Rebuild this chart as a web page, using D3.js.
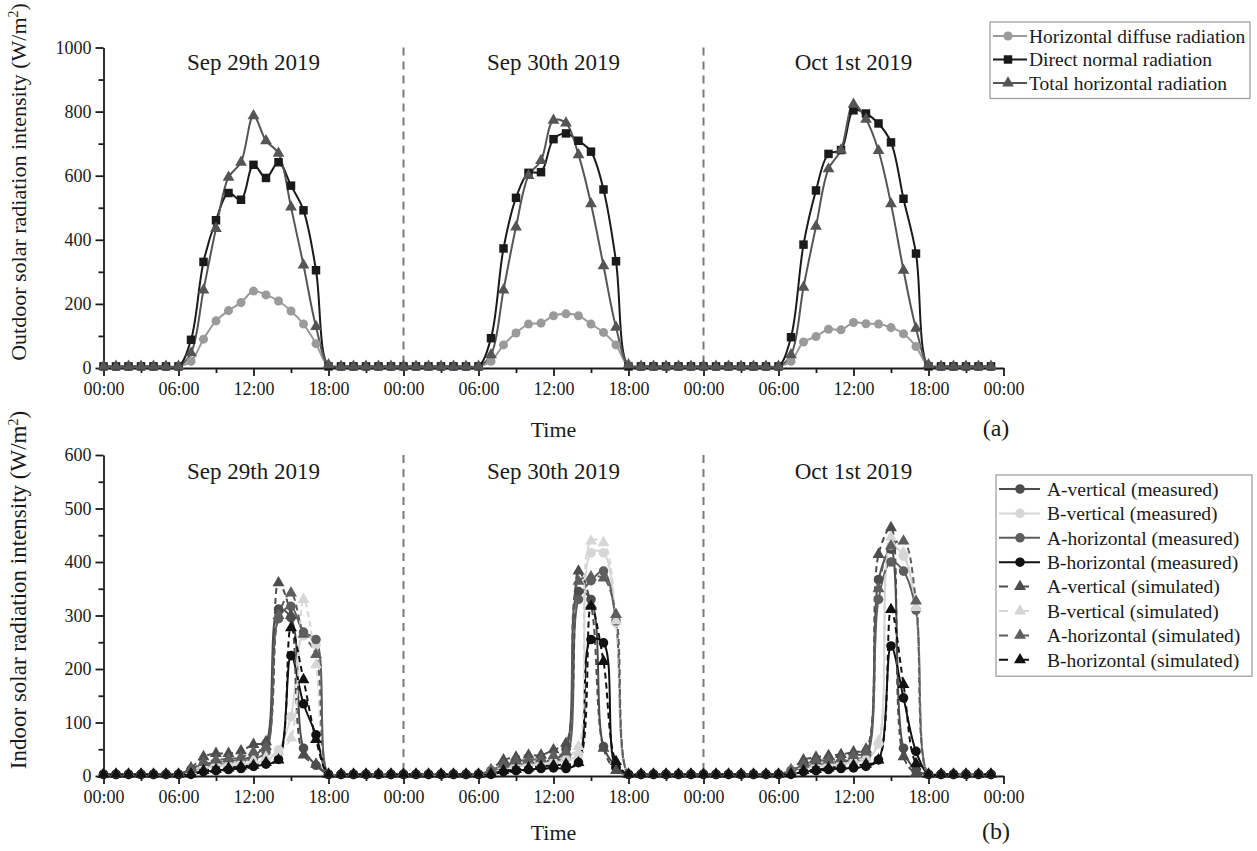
<!DOCTYPE html>
<html>
<head>
<meta charset="utf-8">
<script src="https://cdn.jsdelivr.net/npm/d3@7"></script>
<style>
body { margin: 0; background: #fff; }
svg text { font-family: "Liberation Serif", "Times New Roman", serif; fill: #1a1a1a; }
</style>
</head>
<body>
<svg id="chart" width="1257" height="851"></svg>
<script>
// three days, hourly values (index 0..71)
var days = ["Sep 29th 2019", "Sep 30th 2019", "Oct 1st 2019"];
var hourTicks = [0, 6, 12, 18, 24, 30, 36, 42, 48, 54, 60, 66, 72];
var hourMinor = [3, 9, 15, 21, 27, 33, 39, 45, 51, 57, 63, 69];
var outTicks = [0, 200, 400, 600, 800, 1000];
var outMinor = [100, 300, 500, 700, 900];
var inTicks = [0, 100, 200, 300, 400, 500, 600];
var inMinor = [50, 150, 250, 350, 450, 550];

// (a) outdoor
var horizDiffuse = [
  5,5,5,5,5,5,5, 21,90,147,179,204,240,228,209,178,137,76,5, 5,5,5,5,5,
  5,5,5,5,5,5,5, 21,72,109,137,140,163,169,163,137,111,72,5, 5,5,5,5,5,
  5,5,5,5,5,5,5, 21,81,98,121,119,142,138,137,126,107,67,5, 5,5,5,5,5
];
var directNormal = [
  5,5,5,5,5,5,5, 88,331,461,546,525,634,593,642,569,492,305,5, 5,5,5,5,5,
  5,5,5,5,5,5,5, 93,373,531,609,611,714,732,709,675,557,333,5, 5,5,5,5,5,
  5,5,5,5,5,5,5, 96,385,554,668,680,804,794,763,704,528,357,5, 5,5,5,5,5
];
var totalHoriz = [
  5,5,5,5,5,5,5, 47,243,435,595,642,787,709,670,502,321,129,10, 5,5,5,5,5,
  5,5,5,5,5,5,5, 41,243,440,600,647,773,764,665,512,319,127,10, 5,5,5,5,5,
  5,5,5,5,5,5,5, 41,252,442,621,680,823,776,678,512,305,124,10, 5,5,5,5,5
];

// (b) indoor
var aVertMeas = [
  3,3,3,3,3,3,3, 12,22,25,28,30,38,60,312,296,52,20,3, 3,3,3,3,3,
  3,3,3,3,3,3,3, 10,20,25,25,28,30,50,345,330,55,18,3, 3,3,3,3,3,
  3,3,3,3,3,3,3, 10,20,25,25,28,30,40,367,424,52,10,3, 3,3,3,3,3
];
var bVertMeas = [
  3,3,3,3,3,3,3, 8,15,18,20,22,24,28,49,111,262,245,3, 3,3,3,3,3,
  3,3,3,3,3,3,3, 8,15,18,20,22,25,30,40,417,417,286,3, 3,3,3,3,3,
  3,3,3,3,3,3,3, 8,15,18,20,22,25,30,60,431,411,311,3, 3,3,3,3,3
];
var aHorMeas = [
  3,3,3,3,3,3,3, 10,18,22,25,28,32,45,294,317,269,255,3, 3,3,3,3,3,
  3,3,3,3,3,3,3, 8,18,22,24,26,30,35,330,365,383,290,3, 3,3,3,3,3,
  3,3,3,3,3,3,3, 8,18,22,24,26,30,35,330,400,383,310,3, 3,3,3,3,3
];
var bHorMeas = [
  3,3,3,3,3,3,3, 3,8,10,12,14,18,22,31,225,135,77,3, 3,3,3,3,3,
  3,3,3,3,3,3,3, 3,8,10,12,14,15,14,25,255,249,15,3, 3,3,3,3,3,
  3,3,3,3,3,3,3, 3,8,10,12,14,15,18,30,243,146,46,3, 3,3,3,3,3
];
var aVertSim = [
  3,3,3,3,3,3,3, 15,36,42,42,47,59,64,361,300,39,22,3, 3,3,3,3,3,
  3,3,3,3,3,3,3, 12,30,35,39,39,49,61,383,320,52,10,3, 3,3,3,3,3,
  3,3,3,3,3,3,3, 12,30,35,38,40,45,50,414,464,36,5,3, 3,3,3,3,3
];
var bVertSim = [
  3,3,3,3,3,3,3, 10,20,25,25,28,30,35,45,71,330,208,3, 3,3,3,3,3,
  3,3,3,3,3,3,3, 10,20,25,25,28,30,35,55,439,436,290,3, 3,3,3,3,3,
  3,3,3,3,3,3,3, 10,20,25,25,28,30,35,65,446,417,315,3, 3,3,3,3,3
];
var aHorSim = [
  3,3,3,3,3,3,3, 12,25,30,32,35,45,55,300,342,265,227,3, 3,3,3,3,3,
  3,3,3,3,3,3,3, 10,22,28,30,32,38,45,364,372,370,302,3, 3,3,3,3,3,
  3,3,3,3,3,3,3, 10,22,28,30,32,38,45,350,430,439,327,3, 3,3,3,3,3
];
var bHorSim = [
  3,3,3,3,3,3,3, 4,10,12,15,18,20,25,30,277,180,68,3, 3,3,3,3,3,
  3,3,3,3,3,3,3, 4,10,12,15,18,20,22,25,317,214,27,3, 3,3,3,3,3,
  3,3,3,3,3,3,3, 4,10,12,15,18,20,22,30,311,171,23,3, 3,3,3,3,3
];

var svg = d3.select("#chart");
var x = d3.scaleLinear().domain([0, 72]).range([103.5, 1003.5]);
var serif = '"Liberation Serif", "Times New Roman", serif';

function hourLabel(h) {
  var v = h % 24;
  return (v < 10 ? "0" : "") + v + ":00";
}

function drawPanel(p) {
  var g = svg.append("g");
  var y = p.y;
  var y0 = y.range()[0], y1 = y.range()[1];

  g.append("clipPath").attr("id", p.id + "clip")
    .append("rect").attr("x", x(0)).attr("y", y1 - 20)
    .attr("width", x(72) - x(0)).attr("height", y0 - y1 + 20);

  // day separators
  [24, 48].forEach(function (h) {
    g.append("line").attr("x1", x(h)).attr("x2", x(h)).attr("y1", y1).attr("y2", y0)
      .attr("stroke", "#7a7a7a").attr("stroke-width", 2).attr("stroke-dasharray", "8,6");
  });
  days.forEach(function (d, i) {
    g.append("text").attr("x", x(i * 24 + 12)).attr("y", p.dayY)
      .attr("text-anchor", "middle").style("font-size", "23px").text(d);
  });

  // axes
  var axes = g.append("g").attr("font-family", serif).attr("font-size", 18);
  axes.append("g").attr("transform", "translate(0," + y0 + ")")
    .call(d3.axisBottom(x).tickValues(hourTicks).tickFormat(hourLabel).tickSize(8).tickSizeOuter(0).tickPadding(6));
  axes.append("g").attr("transform", "translate(0," + y0 + ")")
    .call(d3.axisBottom(x).tickValues(hourMinor).tickFormat("").tickSize(5).tickSizeOuter(0))
    .select(".domain").remove();
  axes.append("g").attr("transform", "translate(" + x(0) + ",0)")
    .call(d3.axisLeft(y).tickValues(p.ticks).tickFormat(d3.format("d")).tickSize(8).tickSizeOuter(0).tickPadding(4));
  axes.append("g").attr("transform", "translate(" + x(0) + ",0)")
    .call(d3.axisLeft(y).tickValues(p.minor).tickFormat("").tickSize(5).tickSizeOuter(0))
    .select(".domain").remove();
  axes.selectAll("g").attr("font-family", serif).attr("font-size", 18);
  axes.selectAll(".domain, .tick line").attr("stroke", "#1a1a1a").attr("stroke-width", 1.8);
  axes.selectAll(".tick text").attr("fill", "#1a1a1a");

  g.append("text").attr("x", x(36)).attr("y", p.timeY).attr("text-anchor", "middle")
    .style("font-size", "22px").text("Time");
  g.append("text").attr("x", 996).attr("y", p.timeY - 1).attr("text-anchor", "middle")
    .style("font-size", "24px").text(p.tag);

  var t = g.append("text").attr("transform", "translate(26," + p.titleY + ") rotate(-90)")
    .attr("text-anchor", "middle").style("font-size", p.titleSize + "px");
  t.append("tspan").text(p.title + " (W/m");
  t.append("tspan").attr("dy", -8).style("font-size", "14px").text("2");
  t.append("tspan").attr("dy", 8).text(")");

  // series
  var line = d3.line().x(function (d, i) { return x(i); }).y(function (d) { return y(d); })
    .curve(d3.curveCatmullRom.alpha(0.5));
  var plot = g.append("g").attr("clip-path", "url(#" + p.id + "clip)");
  p.series.forEach(function (s) {
    plot.append("path").datum(s.values).attr("d", line).attr("fill", "none")
      .attr("stroke", s.color).attr("stroke-width", 2)
      .attr("stroke-dasharray", s.dash ? "6,4" : null);
  });
  p.series.forEach(function (s) {
    var sym = d3.symbol().type(s.shape).size(s.size);
    g.append("g").selectAll("path").data(s.values).join("path")
      .attr("transform", function (d, i) { return "translate(" + x(i) + "," + y(d) + ")"; })
      .attr("d", sym).attr("fill", s.color);
  });

  // legend
  var L = p.legend;
  var lg = g.append("g");
  lg.append("rect").attr("x", L.x).attr("y", L.y).attr("width", L.w)
    .attr("height", L.step * p.series.length + 6)
    .attr("fill", "#fff").attr("stroke", "#9a9a9a").attr("stroke-width", 1.2);
  p.series.forEach(function (s, i) {
    var cy = L.y + 14 + i * L.step;
    lg.append("line").attr("x1", L.x + 3).attr("x2", L.lineEnd).attr("y1", cy).attr("y2", cy)
      .attr("stroke", s.color).attr("stroke-width", 2)
      .attr("stroke-dasharray", s.dash ? "9,12" : null);
    lg.append("path").attr("transform", "translate(" + L.mark + "," + cy + ")")
      .attr("d", d3.symbol().type(s.shape).size(s.size)).attr("fill", s.color);
    lg.append("text").attr("x", L.textX).attr("y", cy).attr("dy", "0.35em")
      .style("font-size", "19.5px").text(s.name);
  });
}

drawPanel({
  id: "a", tag: "(a)", title: "Outdoor solar radiation intensity",
  y: d3.scaleLinear().domain([0, 1000]).range([368, 47.5]),
  ticks: outTicks, minor: outMinor, dayY: 70, timeY: 437, titleY: 182, titleSize: 22,
  legend: { x: 990, y: 22, w: 260, step: 23.5, lineEnd: 1027, mark: 1008, textX: 1029 },
  series: [
    { name: "Horizontal diffuse radiation", values: horizDiffuse, color: "#9a9a9a", shape: d3.symbolCircle, size: 64 },
    { name: "Direct normal radiation", values: directNormal, color: "#1a1a1a", shape: d3.symbolSquare, size: 72 },
    { name: "Total horizontal radiation", values: totalHoriz, color: "#555555", shape: d3.symbolTriangle, size: 60 }
  ]
});

drawPanel({
  id: "b", tag: "(b)", title: "Indoor solar radiation intensity",
  y: d3.scaleLinear().domain([0, 600]).range([776, 455]),
  ticks: inTicks, minor: inMinor, dayY: 479, timeY: 840, titleY: 590, titleSize: 23,
  legend: { x: 996, y: 475, w: 256, step: 24.4, lineEnd: 1040, mark: 1020, textX: 1047 },
  series: [
    { name: "A-vertical (measured)", values: aVertMeas, color: "#4d4d4d", shape: d3.symbolCircle, size: 72 },
    { name: "B-vertical (measured)", values: bVertMeas, color: "#d6d6d6", shape: d3.symbolCircle, size: 72 },
    { name: "A-horizontal (measured)", values: aHorMeas, color: "#5e5e5e", shape: d3.symbolCircle, size: 72 },
    { name: "B-horizontal (measured)", values: bHorMeas, color: "#111111", shape: d3.symbolCircle, size: 72 },
    { name: "A-vertical (simulated)", values: aVertSim, color: "#4d4d4d", shape: d3.symbolTriangle, size: 62, dash: true },
    { name: "B-vertical (simulated)", values: bVertSim, color: "#d6d6d6", shape: d3.symbolTriangle, size: 62, dash: true },
    { name: "A-horizontal (simulated)", values: aHorSim, color: "#5e5e5e", shape: d3.symbolTriangle, size: 62, dash: true },
    { name: "B-horizontal (simulated)", values: bHorSim, color: "#111111", shape: d3.symbolTriangle, size: 62, dash: true }
  ]
});
</script>
</body>
</html>
